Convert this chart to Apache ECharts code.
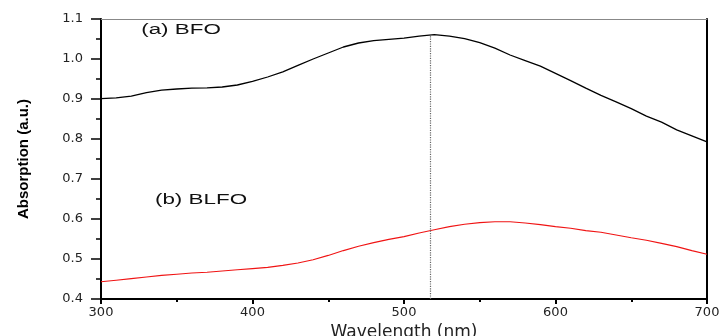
<!DOCTYPE html>
<html><head><meta charset="utf-8">
<script src="https://cdn.jsdelivr.net/npm/echarts@6/dist/echarts.min.js"></script>
<style>html,body{margin:0;padding:0;background:#fff}#c{width:724px;height:336px}</style>
</head><body><div id="c"></div>
<script>
const wavelengths = [300,310,320,330,340,350,360,370,380,390,400,410,420,430,440,450,460,470,480,490,500,510,520,530,540,550,560,570,580,590,600,610,620,630,640,650,660,670,680,690,700];
const bfo = [0.901,0.903,0.907,0.916,0.922,0.925,0.927,0.928,0.930,0.935,0.944,0.955,0.968,0.984,1.000,1.015,1.030,1.040,1.046,1.049,1.052,1.057,1.061,1.057,1.051,1.041,1.027,1.010,0.996,0.982,0.964,0.946,0.927,0.909,0.893,0.876,0.857,0.842,0.823,0.808,0.793];
const blfo = [0.443,0.447,0.451,0.455,0.459,0.462,0.465,0.467,0.470,0.473,0.476,0.479,0.484,0.490,0.498,0.509,0.521,0.532,0.541,0.549,0.556,0.565,0.573,0.581,0.587,0.591,0.593,0.593,0.590,0.586,0.581,0.577,0.571,0.567,0.560,0.553,0.547,0.539,0.531,0.521,0.512];
const peakWavelength = 517;
const peakValue = 1.061;
const labelA = '(a) BFO';
const labelB = '(b) BLFO';
const xTitle = 'Wavelength (nm)';
const yTitle = 'Absorption (a.u.)';

const chart = echarts.init(document.getElementById('c'));
const zip = (xs, ys) => xs.map((x, i) => [x, ys[i]]);
const tickFont = {fontFamily: 'DejaVu Sans', fontSize: 13, color: '#222'};
chart.setOption({
  animation: false,
  grid: {left: 101, right: 17, top: 19, bottom: 37, containLabel: false, outerBoundsMode: 'none'},
  xAxis: [{
    type: 'value', min: 300, max: 700, interval: 100, position: 'bottom',
    name: xTitle, nameLocation: 'middle', nameGap: 23,
    nameTextStyle: {fontFamily: 'DejaVu Sans', fontSize: 17, color: '#222'},
    axisLine: {show: true, lineStyle: {color: '#000', width: 2}},
    axisTick: {show: true, inside: false, length: 5, lineStyle: {color: '#000', width: 2}},
    minorTick: {show: true, splitNumber: 2, length: 3, lineStyle: {color: '#000', width: 2}},
    axisLabel: Object.assign({margin: 7}, tickFont),
    splitLine: {show: false}
  }, {
    type: 'value', min: 300, max: 700, position: 'top',
    axisLine: {show: true, lineStyle: {color: '#888', width: 1}},
    axisTick: {show: false}, axisLabel: {show: false}, splitLine: {show: false}
  }],
  yAxis: [{
    type: 'value', min: 0.4, max: 1.1, interval: 0.1, position: 'left',
    name: yTitle, nameLocation: 'middle', nameGap: 70,
    nameTextStyle: {fontFamily: 'Liberation Sans', fontSize: 15, fontWeight: 'bold', color: '#000'},
    axisLine: {show: true, lineStyle: {color: '#000', width: 2}},
    axisTick: {show: true, inside: false, length: 10, lineStyle: {color: '#000', width: 1.5}},
    minorTick: {show: true, splitNumber: 2, length: 5, lineStyle: {color: '#000', width: 1.5}},
    axisLabel: Object.assign({margin: 18, formatter: v => v.toFixed(1)}, tickFont),
    splitLine: {show: false}
  }, {
    type: 'value', min: 0.4, max: 1.1, position: 'right',
    axisLine: {show: true, lineStyle: {color: '#000', width: 2}},
    axisTick: {show: false}, axisLabel: {show: false}, splitLine: {show: false}
  }],
  series: [{
    type: 'line', name: 'BFO', data: zip(wavelengths, bfo), showSymbol: false,
    lineStyle: {color: '#000', width: 1.3}, z: 3,
    markLine: {
      silent: true, symbol: ['none', 'none'], label: {show: false},
      lineStyle: {color: '#666', type: 'dotted', width: 1.2},
      data: [[{coord: [peakWavelength, 0.4]}, {coord: [peakWavelength, peakValue]}]]
    }
  }, {
    type: 'line', name: 'BLFO', data: zip(wavelengths, blfo), showSymbol: false,
    lineStyle: {color: '#f01414', width: 1.1}, z: 3
  }],
  graphic: [{
    type: 'text', x: 181, y: 30, scaleX: 1.6,
    style: {text: labelA, fontFamily: 'Liberation Sans', fontSize: 14, fill: '#111', align: 'center', verticalAlign: 'middle'}
  }, {
    type: 'text', x: 201, y: 200, scaleX: 1.6,
    style: {text: labelB, fontFamily: 'Liberation Sans', fontSize: 14, fill: '#111', align: 'center', verticalAlign: 'middle'}
  }]
});
</script></body></html>
